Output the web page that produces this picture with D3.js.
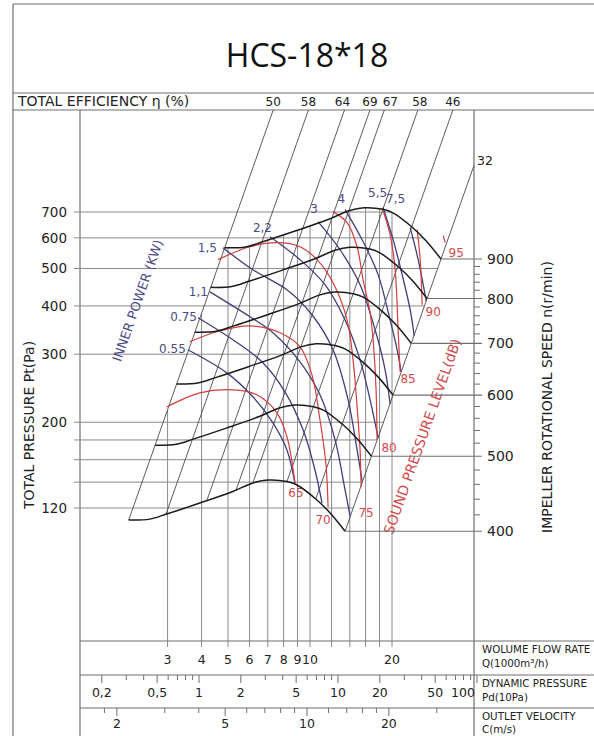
<!DOCTYPE html>
<html><head><meta charset="utf-8">
<script src="https://cdn.jsdelivr.net/npm/d3@7/dist/d3.min.js"></script>
<style>
body{margin:0;background:#fff}
svg{display:block}
text{font-family:"DejaVu Sans",Verdana,sans-serif}
</style></head><body>
<svg id="chart" width="594" height="736"></svg>
<script>
// ---------------- DATA ----------------
const chartTitle = "HCS-18*18";
const efficiencyLabels = [50, 58, 64, 69, 67, 58, 46];
const efficiencyFlowAt400 = [2.16, 2.96, 4.18, 5.35, 6.17, 8.23, 10.5];
const boundaryEfficiency = 32;
const pressureGrid = [120, 140, 160, 180, 200, 300, 400, 500, 600, 700];
const pressureLabels = [120, 200, 300, 400, 500, 600, 700];
const flowGrid = [3, 4, 5, 6, 7, 8, 9, 10, 12, 14, 16, 18, 20];
const flowLabels = [3, 4, 5, 6, 7, 8, 9, 10, 20];
const dynTicks = [0.2, 0.3, 0.4, 0.5, 0.6, 0.7, 0.8, 0.9, 1, 2, 3, 4, 5, 6, 7, 8, 9, 10, 20, 30, 40, 50, 60, 70, 80, 90, 100];
const dynLabels = [0.2, 0.5, 1, 2, 5, 10, 20, 50, 100];
const velTicks = [1.8, 2, 3, 4, 5, 6, 7, 8, 9, 10, 12, 14, 16, 18, 20, 30];
const velLabels = [2, 5, 10, 20];
const speeds = [400, 500, 600, 700, 800, 900];
const speedMinor = [420, 440, 460, 480, 520, 540, 560, 580, 620, 640, 660, 680, 720, 740, 760, 780, 820, 840, 860, 880];

// fan curves: flow Q (1000 m3/h) and total pressure (Pa)
const rpm400Q = [2.16, 2.58, 2.98, 3.94, 5.21, 6.17, 7.01, 8.23, 8.96, 10.6, 11.85, 13.45];
const rpm400P = [111.7, 112.3, 115.8, 123.6, 132.4, 139.3, 141.8, 140.5, 137.6, 125.9, 116.5, 104.5];
const rpm500Q = [2.70, 3.23, 3.73, 4.93, 6.51, 7.71, 8.76, 10.29, 11.20, 13.25, 14.81, 16.81];
const rpm500P = [174.5, 175.5, 180.9, 193.1, 206.9, 217.7, 221.6, 219.5, 215.0, 196.7, 182.0, 163.3];
const rpm600Q = [3.24, 3.87, 4.47, 5.91, 7.82, 9.26, 10.52, 12.35, 13.44, 15.90, 17.78, 20.18];
const rpm600P = [251.3, 252.7, 260.6, 278.1, 297.9, 313.4, 319.1, 316.1, 309.6, 283.3, 262.1, 235.1];
const rpm700Q = [3.78, 4.52, 5.22, 6.90, 9.12, 10.80, 12.27, 14.40, 15.68, 18.55, 20.74, 23.54];
const rpm700P = [342.1, 343.9, 354.6, 378.5, 405.5, 426.6, 434.3, 430.3, 421.4, 385.6, 356.8, 320.0];
const rpm800Q = [4.32, 5.16, 5.96, 7.88, 10.42, 12.34, 14.02, 16.46, 17.92, 21.20, 23.70, 26.90];
const rpm800P = [446.8, 449.2, 463.2, 494.4, 529.6, 557.2, 567.2, 562.0, 550.4, 503.6, 466.0, 418.0];
const rpm900Q = [4.86, 5.81, 6.71, 8.87, 11.72, 13.88, 15.77, 18.52, 20.16, 23.85, 26.66, 30.26];
const rpm900P = [565.5, 568.5, 586.2, 625.7, 670.3, 705.2, 717.9, 711.3, 696.6, 637.4, 589.8, 529.0];

// inner power lines (kW): [Q, P] points
const powerLabels = ["0.55", "0.75", "1,1", "1,5", "2,2", "3", "4", "5,5", "7,5"];
const power055 = [[3.56,308],[4.95,268.4],[6.17,232.8],[7.31,199.2],[8.23,169.6],[8.81,138.5]];
const power075 = [[3.88,372.7],[5.21,327],[6.66,286.7],[8.09,239.8],[9.43,191.2],[10.43,150.5],[11.07,123.6]];
const power11 = [[4.29,435],[6.02,375],[7.31,341],[9.19,286.7],[10.88,235.5],[12.36,180],[13.45,133.6],[14.03,114.4]];
const power15 = [[4.79,566],[6.17,496],[8.23,440.5],[10.17,379.5],[12.15,308],[13.80,228.6],[14.89,169.6],[15.53,141]];
const power22 = [[7.13,604],[9.19,527],[11.35,454],[13.45,368],[15.27,290],[16.62,228.6],[17.78,182.3]];
const power3 = [[10.70,661],[12.89,559],[15.27,454],[17.34,347],[18.87,273.4],[19.68,223.2]];
const power4 = [[13.45,710],[15.53,593.6],[17.78,482],[19.68,368],[20.89,308],[21.60,270]];
const power55 = [[18.55,718],[20.19,593.6],[21.79,482],[23.32,391],[24.12,334.8]];
const power75 = [[23.32,637.6],[24.95,527],[26.71,412.5]];

// sound pressure level lines (dB): [Q, P] points
const soundLabels = ["65", "70", "75", "80", "85", "90", "95"];
const sound65 = [[2.98,219.2],[3.94,238.3],[5.21,242.6],[6.38,235.5],[7.56,211.5],[8.23,183.3],[8.81,139.3]];
const sound70 = [[3.62,323],[4.55,343],[6.02,355],[7.76,341],[9.19,313.6],[10.17,265.3],[10.88,202.8],[11.45,155],[11.65,120.7]];
const sound75 = [[4.59,527],[6.02,569],[7.56,583],[9.19,569],[10.61,527],[12.15,459],[13.68,368],[14.39,290],[14.89,219.2],[15.27,169.6],[15.40,136]];
const sound80 = [[12.15,701.5],[13.68,657],[14.89,569],[15.66,467.6],[16.62,384],[17.05,327],[17.48,242.6],[17.63,180]];
const sound85 = [[18.39,718],[19.68,611.5],[20.54,496],[21.06,347],[21.42,270]];
const sound90 = [[24.74,630],[25.38,527],[25.81,403]];
const sound95 = [[30.83,608],[31.36,583]];

// ---------------- LAYOUT / STYLE ----------------
const svg = d3.select("#chart");
const frameColor = "#6f6f6f", gridColor = "#8a8a8a", effColor = "#4a4a4a";
const blue = "#3f3f7a", blueText = "#4b4b88", red = "#d43d3d", redText = "#d24a4a";
const L = 80, R = 474, TOP = 110;
const row1 = 641, row2 = 675, row3 = 708;

const xs = d3.scaleLog().domain([10, 20]).range([310, 392]);
const ys = d3.scaleLog().domain([120, 700]).range([508, 212]);
const xPd = d3.scaleLog().domain([1, 100]).range([199, 477]);
const xC = d3.scaleLog().domain([1, 10]).range([35, 307]);

const rpmCurves = [
  d3.zip(rpm400Q, rpm400P), d3.zip(rpm500Q, rpm500P), d3.zip(rpm600Q, rpm600P),
  d3.zip(rpm700Q, rpm700P), d3.zip(rpm800Q, rpm800P), d3.zip(rpm900Q, rpm900P)
];
const powerLines = [power055, power075, power11, power15, power22, power3, power4, power55, power75];
const soundLines = [sound65, sound70, sound75, sound80, sound85, sound90, sound95];

const lineGen = d3.line().x(d => xs(d[0])).y(d => ys(d[1])).curve(d3.curveCatmullRom.alpha(0.5));

function hline(g, x1, x2, y, c, w) { g.append("line").attr("x1", x1).attr("x2", x2).attr("y1", y).attr("y2", y).attr("stroke", c).attr("stroke-width", w); }
function vline(g, x, y1, y2, c, w) { g.append("line").attr("x1", x).attr("x2", x).attr("y1", y1).attr("y2", y2).attr("stroke", c).attr("stroke-width", w); }
function samplePath(node) { const len = node.getTotalLength(); const pts = []; for (let i = 0; i <= 800; i++) { const p = node.getPointAtLength(len * i / 800); pts.push([p.x, p.y]); } return pts; }
function yAtX(pts, x) { for (let i = 1; i < pts.length; i++) { const a = pts[i-1], b = pts[i]; if ((a[0]-x)*(b[0]-x) <= 0 && a[0] !== b[0]) return a[1] + (b[1]-a[1])*(x-a[0])/(b[0]-a[0]); } return null; }

const helper = svg.append("g").attr("visibility", "hidden");
const p400 = helper.append("path").attr("d", lineGen(rpmCurves[0])).node();
const p900 = helper.append("path").attr("d", lineGen(rpmCurves[5])).node();
const s400 = samplePath(p400), s900 = samplePath(p900);

// ---------------- FRAME ----------------
const frame = svg.append("g");
vline(frame, 13, 4, 736, frameColor, 1.2);
hline(frame, 13, 594, 4, frameColor, 1.2);
hline(frame, 13, 594, 93, frameColor, 1.2);
hline(frame, 13, 594, TOP, frameColor, 1.2);
vline(frame, L, TOP, 736, frameColor, 1.2);
vline(frame, R, TOP, 736, frameColor, 1.2);
hline(frame, L, 594, row1, frameColor, 1.2);
hline(frame, L, 594, row2, frameColor, 1.2);
hline(frame, L, 594, row3, frameColor, 1.2);

svg.append("text").attr("x", 307).attr("y", 67).attr("text-anchor", "middle")
  .style("font-family", "'Open Sans',sans-serif").style("font-size", "32px").attr("fill", "#111").text(chartTitle);
svg.append("text").attr("x", 18).attr("y", 106).style("font-size", "14px").attr("fill", "#222").text("TOTAL EFFICIENCY η (%)");

const pTop = ys.invert(TOP);
const effLines = efficiencyFlowAt400.map(q => {
  const x0 = xs(q), y0 = yAtX(s400, x0), P0 = ys.invert(y0);
  const qTop = q * Math.sqrt(pTop / P0);
  return { x0, y0, x1: xs(qTop), y1: TOP };
});
const q32 = rpm400Q[rpm400Q.length-1], p32 = rpm400P[rpm400P.length-1];
const q32Top = xs.invert(R);
const p32Top = p32 * Math.pow(q32Top / q32, 2);
const b32 = { x0: xs(q32), y0: ys(p32), x1: R, y1: ys(p32Top) };
const x32 = y => b32.x0 + (b32.x1 - b32.x0) * (y - b32.y0) / (b32.y1 - b32.y0);
const e50 = effLines[0];
const x900start = xs(rpm900Q[0]);
const y50 = x => e50.y0 + (e50.y1 - e50.y0) * (x - e50.x0) / (e50.x1 - e50.x0);
let peakIdx = 0; s900.forEach((p, i) => { if (p[1] < s900[peakIdx][1]) peakIdx = i; });
const s900desc = s900.slice(peakIdx);
const y900end = ys(rpm900P[rpm900P.length-1]);

// ---------------- GRID ----------------
const grid = svg.append("g");
pressureGrid.forEach(p => {
  const y = ys(p);
  let xr = x32(y);
  if (y < y900end) {
    for (let i = 1; i < s900desc.length; i++) {
      const a = s900desc[i-1], b = s900desc[i];
      if ((a[1]-y)*(b[1]-y) <= 0) { xr = Math.min(xr, a[0] + (b[0]-a[0])*(y-a[1])/(b[1]-a[1] || 1)); break; }
    }
  }
  hline(grid, 74, xr, y, gridColor, 1);
});
flowGrid.forEach(q => {
  const x = xs(q);
  const yt = x < x900start ? y50(x) : yAtX(s900, x);
  vline(grid, x, yt, row1 + 6, gridColor, 1);
});

const eff = svg.append("g");
const effLabelDx = [0, 0, -2, 0, 6, 2, 0];
effLines.forEach((e, i) => {
  eff.append("line").attr("x1", e.x0).attr("y1", e.y0).attr("x2", e.x1).attr("y2", e.y1).attr("stroke", effColor).attr("stroke-width", 0.9);
  eff.append("text").attr("x", e.x1 + effLabelDx[i]).attr("y", 106).attr("text-anchor", "middle").style("font-size", "12px").attr("fill", "#222").text(efficiencyLabels[i]);
});
eff.append("line").attr("x1", b32.x0).attr("y1", b32.y0).attr("x2", b32.x1).attr("y2", b32.y1).attr("stroke", effColor).attr("stroke-width", 0.9);
eff.append("text").attr("x", b32.x1 + 3).attr("y", b32.y1 + 0).style("font-size", "12.5px").attr("fill", "#222").text(boundaryEfficiency);

// ---------------- CURVES ----------------
const blueG = svg.append("g");
const powerLabelOffset = [[-2,3],[-1,3],[-2,4],[-6,4],[2,-5],[0,-9],[0,-7],[4,-11],[-5,-25]];
powerLines.forEach((pts, i) => {
  blueG.append("path").attr("d", lineGen(pts)).attr("fill", "none").attr("stroke", blue).attr("stroke-width", 1.3);
  const x = xs(pts[0][0]), y = ys(pts[0][1]);
  blueG.append("text").attr("x", x + powerLabelOffset[i][0]).attr("y", y + powerLabelOffset[i][1])
    .attr("text-anchor", "end").style("font-size", "12px").attr("fill", blueText).text(powerLabels[i]);
});
const redG = svg.append("g");
const soundLabelOffset = [[1,14],[-5,17],[5,30],[12,12],[8,11],[11,11],[11,14]];
soundLines.forEach((pts, i) => {
  redG.append("path").attr("d", lineGen(pts)).attr("fill", "none").attr("stroke", red).attr("stroke-width", 1.2);
  const last = pts[pts.length-1];
  redG.append("text").attr("x", xs(last[0]) + soundLabelOffset[i][0]).attr("y", ys(last[1]) + soundLabelOffset[i][1])
    .attr("text-anchor", "middle").style("font-size", "12px").attr("fill", redText).text(soundLabels[i]);
});
const blackG = svg.append("g");
rpmCurves.forEach(c => {
  blackG.append("path").attr("d", lineGen(c)).attr("fill", "none").attr("stroke", "#1c1c1c").attr("stroke-width", 1.5);
});

svg.append("text").attr("transform", "translate(142,302) rotate(-70.6)").attr("text-anchor", "middle")
  .style("font-size", "13px").attr("fill", blueText).text("INNER POWER (KW)");
svg.append("text").attr("transform", "translate(427,438) rotate(-70.6)").attr("text-anchor", "middle")
  .style("font-size", "14px").attr("fill", redText).text("SOUND PRESSURE LEVEL(dB)");

// ---------------- LEFT AXIS ----------------
pressureLabels.forEach(p => {
  svg.append("text").attr("x", 67).attr("y", ys(p) + 5).attr("text-anchor", "end").style("font-size", "13.5px").attr("fill", "#222").text(p);
});
svg.append("text").attr("transform", "translate(34,425) rotate(-90)").attr("text-anchor", "middle")
  .style("font-size", "14px").attr("fill", "#222").text("TOTAL PRESSURE Pt(Pa)");

// ---------------- RIGHT AXIS (speed) ----------------
const endYs = rpmCurves.map(c => ys(c[c.length-1][1]));
const yN = d3.scaleLog().domain([400, 900]).range([endYs[0], endYs[5]]);
const rg = svg.append("g");
speedMinor.forEach(n => hline(rg, R, R + 6, yN(n), frameColor, 1));
rpmCurves.forEach((c, i) => {
  const last = c[c.length-1];
  const y = yN(speeds[i]);
  hline(rg, xs(last[0]), R + 8, y, frameColor, 1.1);
  rg.append("text").attr("x", R + 13).attr("y", y + 5).style("font-size", "14px").attr("fill", "#222").text(speeds[i]);
});
svg.append("text").attr("transform", "translate(552,397) rotate(-90)").attr("text-anchor", "middle")
  .style("font-size", "14px").attr("fill", "#222").text("IMPELLER ROTATIONAL SPEED n(r/min)");

// ---------------- BOTTOM SCALES ----------------
const bg = svg.append("g");
flowLabels.forEach(q => bg.append("text").attr("x", xs(q)).attr("y", 664).attr("text-anchor", "middle").style("font-size", "12.5px").attr("fill", "#222").text(q));
const fmt = v => String(v).replace(".", ",");
dynTicks.forEach(v => vline(bg, xPd(v), row2, row2 + (dynLabels.includes(v) ? 8 : 5), frameColor, 1));
dynLabels.forEach(v => bg.append("text").attr("x", Math.min(xPd(v), 463)).attr("y", 697).attr("text-anchor", "middle").style("font-size", "12.5px").attr("fill", "#222").text(fmt(v)));
velTicks.forEach(v => vline(bg, xC(v), row3, row3 + (velLabels.includes(v) ? 8 : 5), frameColor, 1));
velLabels.forEach(v => bg.append("text").attr("x", xC(v)).attr("y", 728).attr("text-anchor", "middle").style("font-size", "12.5px").attr("fill", "#222").text(v));

const side = [["WOLUME FLOW RATE", 653], ["Q(1000m³/h)", 667], ["DYNAMIC PRESSURE", 687], ["Pd(10Pa)", 701], ["OUTLET VELOCITY", 720], ["C(m/s)", 733]];
side.forEach(s => bg.append("text").attr("x", 482).attr("y", s[1]).style("font-size", "10.3px").attr("fill", "#222").text(s[0]));
</script>
</body></html>
